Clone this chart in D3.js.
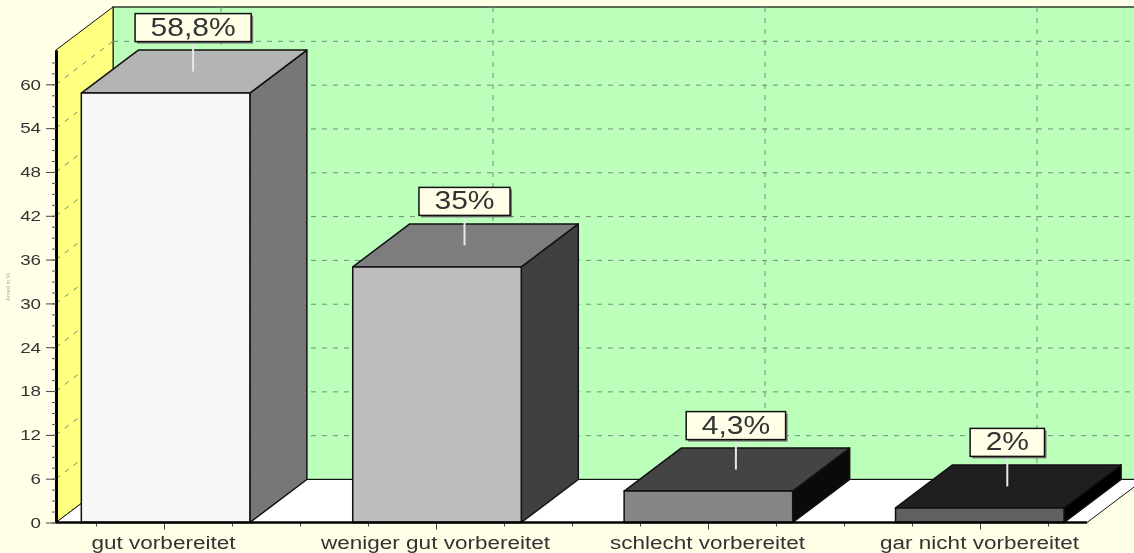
<!DOCTYPE html>
<html>
<head>
<meta charset="utf-8">
<script src="https://d3js.org/d3.v7.min.js"></script>
<style>
  html, body { margin: 0; padding: 0; background: #ffffe8; overflow: hidden; }
  svg { display: block; filter: blur(0.45px); }
  text { font-family: "Liberation Sans", Arial, sans-serif; }
</style>
</head>
<body>
<svg id="chart"></svg>
<script>
// data
const categories = ["gut vorbereitet", "weniger gut vorbereitet", "schlecht vorbereitet", "gar nicht vorbereitet"];
const values = [58.8, 35, 4.3, 2];
const yTicks = [0, 6, 12, 18, 24, 30, 36, 42, 48, 54, 60];
const yTitle = "Anteil in %";

// front, top and side shade of each bar
const frontColors = ["#f8f8f8", "#bdbdbd", "#858585", "#606060"];
const topColors = ["#b4b4b4", "#7d7d7d", "#444444", "#1f1f1f"];
const sideColors = ["#777777", "#404040", "#0a0a0a", "#000000"];

const width = 1134, height = 553;
const depthX = 57, depthY = -43;   // 3d offset of the back wall
const axisLeft = 56, floorRight = 1087;
const textColor = "#333";

const svg = d3.select("#chart").attr("width", width).attr("height", height);

const y = d3.scaleLinear().domain([0, 64.7]).range([522.5, 50]);

// bars
const x = d3.scaleBand()
    .domain(categories)
    .range([29.9, 1115.5])
    .paddingInner(0.379)
    .paddingOuter(0.1895);

// category position as a number, for the minor ticks and the grid
const xPos = d3.scaleLinear().domain([0, 3]).range([164, 980]);

const line = d3.line();
const poly = function (pts) { return line(pts) + "Z"; };

// back wall
svg.append("rect")
    .attr("x", axisLeft + depthX)
    .attr("y", y.range()[1] + depthY)
    .attr("width", width)
    .attr("height", y.range()[0] - y.range()[1])
    .attr("fill", "#bbffbb")
    .attr("stroke", "#2f3f2f")
    .attr("stroke-width", 1.5);

// left wall
svg.append("path")
    .attr("d", poly([
        [axisLeft, y.range()[1]],
        [axisLeft + depthX, y.range()[1] + depthY],
        [axisLeft + depthX, y(0) + depthY],
        [axisLeft, y(0)]
    ]))
    .attr("fill", "#ffff80")
    .attr("stroke", "#111")
    .attr("stroke-width", 1);

// floor
svg.append("path")
    .attr("d", poly([
        [axisLeft, y(0)],
        [axisLeft + depthX, y(0) + depthY],
        [floorRight + depthX, y(0) + depthY],
        [floorRight, y(0)]
    ]))
    .attr("fill", "#ffffff")
    .attr("stroke", "#111")
    .attr("stroke-width", 1);

// grid
const gridColor = "#6f9078";
const grid = svg.append("g")
    .attr("fill", "none")
    .attr("stroke", gridColor)
    .attr("stroke-dasharray", "5,6");

grid.selectAll(".grid-h")
    .data(yTicks.slice(1))
    .enter().append("line")
    .attr("class", "grid-h")
    .attr("x1", axisLeft + depthX)
    .attr("x2", width)
    .attr("y1", function (d) { return y(d) + depthY; })
    .attr("y2", function (d) { return y(d) + depthY; });

grid.selectAll(".grid-d")
    .data(yTicks.slice(1))
    .enter().append("line")
    .attr("class", "grid-d")
    .attr("x1", axisLeft)
    .attr("x2", axisLeft + depthX)
    .attr("y1", function (d) { return y(d); })
    .attr("y2", function (d) { return y(d) + depthY; });

grid.selectAll(".grid-v")
    .data(categories)
    .enter().append("line")
    .attr("class", "grid-v")
    .attr("x1", function (d, i) { return xPos(i) + depthX; })
    .attr("x2", function (d, i) { return xPos(i) + depthX; })
    .attr("y1", y.range()[1] + depthY)
    .attr("y2", y(0) + depthY);

// bars, each one side + top + front
const bars = svg.selectAll(".bar")
    .data(values)
    .enter().append("g")
    .attr("class", "bar")
    .attr("stroke", "#111")
    .attr("stroke-width", 1.5)
    .attr("stroke-linejoin", "round");

bars.append("path")
    .attr("fill", function (d, i) { return sideColors[i]; })
    .attr("d", function (d, i) {
        const r = x(categories[i]) + x.bandwidth();
        return poly([[r, y(d)], [r + depthX, y(d) + depthY], [r + depthX, y(0) + depthY], [r, y(0)]]);
    });

bars.append("path")
    .attr("fill", function (d, i) { return topColors[i]; })
    .attr("d", function (d, i) {
        const l = x(categories[i]), r = l + x.bandwidth();
        return poly([[l, y(d)], [l + depthX, y(d) + depthY], [r + depthX, y(d) + depthY], [r, y(d)]]);
    });

bars.append("rect")
    .attr("fill", function (d, i) { return frontColors[i]; })
    .attr("x", function (d, i) { return x(categories[i]); })
    .attr("y", function (d) { return y(d); })
    .attr("width", x.bandwidth())
    .attr("height", function (d) { return y(0) - y(d); });

// axes
const yAxis = svg.append("g")
    .attr("transform", "translate(" + axisLeft + ",0)")
    .call(d3.axisLeft(y).tickValues(yTicks).tickSizeInner(10).tickSizeOuter(0).tickPadding(5));
yAxis.select(".domain").attr("stroke", "#000").attr("stroke-width", 3);
yAxis.selectAll("line").attr("stroke", "#444");
yAxis.selectAll("text").attr("font-size", 15).attr("fill", textColor);

const yMinor = svg.append("g")
    .attr("transform", "translate(" + axisLeft + ",0)")
    .call(d3.axisLeft(y).tickValues(d3.range(0, 64.5, 1.5)).tickSize(4).tickFormat(""));
yMinor.select(".domain").remove();
yMinor.selectAll("line").attr("stroke", "#555");

const xMinor = svg.append("g")
    .attr("transform", "translate(0," + y(0) + ")")
    .call(d3.axisBottom(xPos).tickValues(d3.range(-0.25, 3.5, 0.25)).tickSize(4).tickFormat(""));
xMinor.select(".domain").remove();
xMinor.selectAll("line").attr("stroke", "#444");

const xAxis = svg.append("g")
    .attr("transform", "translate(0," + y(0) + ")")
    .call(d3.axisBottom(xPos).tickValues(d3.range(categories.length)).tickSize(7).tickPadding(7)
        .tickFormat(function (i) { return categories[i]; }));
xAxis.select(".domain").remove();
xAxis.selectAll("line").attr("stroke", "#444");
xAxis.selectAll("text").attr("font-size", 18).attr("dx", -1).attr("fill", textColor);

svg.append("line")
    .attr("x1", axisLeft)
    .attr("x2", floorRight)
    .attr("y1", y(0))
    .attr("y2", y(0))
    .attr("stroke", "#000")
    .attr("stroke-width", 2.5);

// tiny axis title
svg.append("text")
    .attr("transform", "translate(10,287) rotate(-90)")
    .attr("text-anchor", "middle")
    .attr("font-size", 6)
    .style("fill", "#aaa")
    .text(yTitle);

// value labels
const labels = svg.selectAll(".label")
    .data(values)
    .enter().append("g")
    .attr("class", "label")
    .attr("transform", function (d, i) {
        const cx = x(categories[i]) + x.bandwidth() / 2 + depthX / 2 - 1;
        return "translate(" + cx + "," + (y(d) + depthY / 2) + ")";
    });

labels.append("line")
    .attr("y1", 0)
    .attr("y2", -30)
    .attr("stroke", "#e8e8e8")
    .attr("stroke-width", 2);

const labelText = labels.append("text")
    .attr("text-anchor", "middle")
    .attr("y", -36)
    .attr("font-size", 25)
    .attr("fill", textColor)
    .text(function (d) { return String(d).replace(".", ",") + "%"; });

labelText.each(function () {
    const g = d3.select(this.parentNode);
    const w = this.getComputedTextLength() * 1.2 + 31;
    g.insert("rect", "text")
        .attr("x", -w / 2 + 2).attr("y", -56).attr("width", w).attr("height", 28)
        .attr("fill", "#777");
    g.insert("rect", "text")
        .attr("x", -w / 2).attr("y", -58).attr("width", w).attr("height", 28)
        .attr("fill", "#ffffe8").attr("stroke", "#111").attr("stroke-width", 1.5);
});

// the source image is stretched sideways, widen the text the same way
svg.selectAll("text").each(function () {
    if (this.getAttribute("transform")) return;
    const stretch = this.getAttribute("font-size") == 25 ? 1.2 : 1.25;
    d3.select(this)
        .attr("textLength", this.getComputedTextLength() * stretch)
        .attr("lengthAdjust", "spacingAndGlyphs");
});
</script>
</body>
</html>
